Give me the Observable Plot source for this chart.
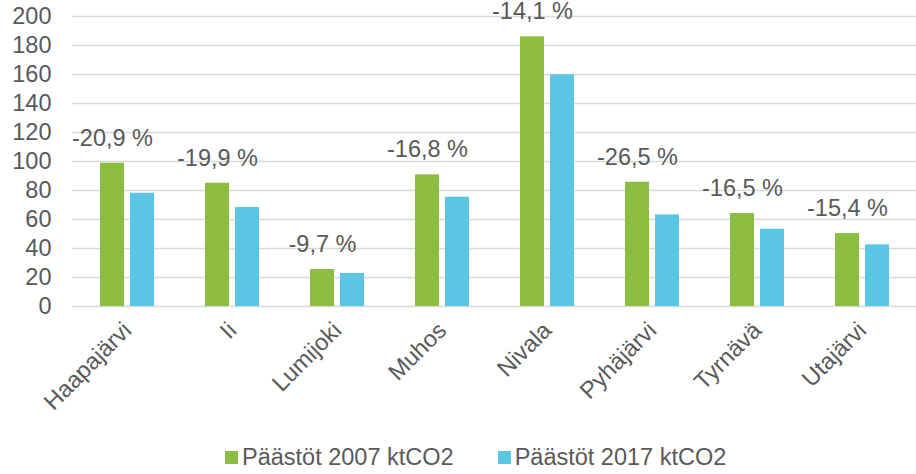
<!DOCTYPE html>
<html><head><meta charset="utf-8">
<script src="https://cdn.jsdelivr.net/npm/d3@7"></script>
<script src="https://cdn.jsdelivr.net/npm/@observablehq/plot@0.6"></script>
<style>
body{margin:0;background:#fff;font-family:"Liberation Sans",Arial,sans-serif;color:#595959;}
#chart{width:916px;}
#legend{display:flex;align-items:center;height:34px;padding-left:225px;font-size:23.5px;color:#595959;white-space:nowrap;}
#legend .item{display:flex;align-items:center;margin-right:44px;}
#legend .sw{width:13px;height:13px;margin-right:4px;}
</style></head><body><div id="chart"></div><div id="legend"></div>
<script>
const municipalities = ["Haapajärvi","Ii","Lumijoki","Muhos","Nivala","Pyhäjärvi","Tyrnävä","Utajärvi"];
const seriesNames = ["Päästöt 2007 ktCO2","Päästöt 2017 ktCO2"];
const emissions2007 = [98.8, 85.0, 25.5, 90.8, 186.0, 85.7, 64.1, 50.3];
const emissions2017 = [78.1, 68.3, 22.8, 75.4, 159.8, 63.2, 53.3, 42.5];
const changeLabels = ["-20,9 %","-19,9 %","-9,7 %","-16,8 %","-14,1 %","-26,5 %","-16,5 %","-15,4 %"];
const yTicks = [0,20,40,60,80,100,120,140,160,180,200];
const seriesColors = ["#8cbd41","#5bc5e6"];

const rows = municipalities.flatMap((m,i)=>[
  {m, s:seriesNames[0], v:emissions2007[i]},
  {m, s:seriesNames[1], v:emissions2017[i]}
]);
const labelRows = municipalities.map((m,i)=>({m, v:emissions2007[i], t:changeLabels[i]}));

const chart = Plot.plot({
  width:916, height:440,
  marginLeft:72, marginRight:0, marginTop:16, marginBottom:134,
  style:{fontFamily:"Liberation Sans, Arial, sans-serif", fontSize:"23.5px", color:"#595959", background:"#fff", overflow:"visible"},
  x:{domain:municipalities, paddingInner:0.488, paddingOuter:0.244, label:null, tickSize:0, tickRotate:-45, tickPadding:20},
  y:{domain:[0,200], ticks:yTicks, label:null, tickSize:0, tickPadding:21},
  color:{domain:seriesNames, range:seriesColors},
  marks:[
    Plot.ruleY(yTicks,{stroke:"#d9d9d9", strokeWidth:1.5}),
    Plot.barY(rows.filter(d=>d.s===seriesNames[0]),{x:"m", y:"v", fill:"s", insetLeft:0, insetRight:30}),
    Plot.barY(rows.filter(d=>d.s===seriesNames[1]),{x:"m", y:"v", fill:"s", insetLeft:30, insetRight:0}),
    Plot.text(labelRows,{x:"m", y:"v", text:"t", dx:-15, dy:-25, fill:"#595959", fontSize:23.5})
  ]
});
document.getElementById("chart").appendChild(chart);

const legend = document.getElementById("legend");
seriesNames.forEach((s,i)=>{
  const it = document.createElement("div"); it.className="item";
  const sw = document.createElement("div"); sw.className="sw"; sw.style.background=seriesColors[i];
  const tx = document.createElement("span"); tx.textContent=s;
  it.appendChild(sw); it.appendChild(tx); legend.appendChild(it);
});
</script></body></html>
